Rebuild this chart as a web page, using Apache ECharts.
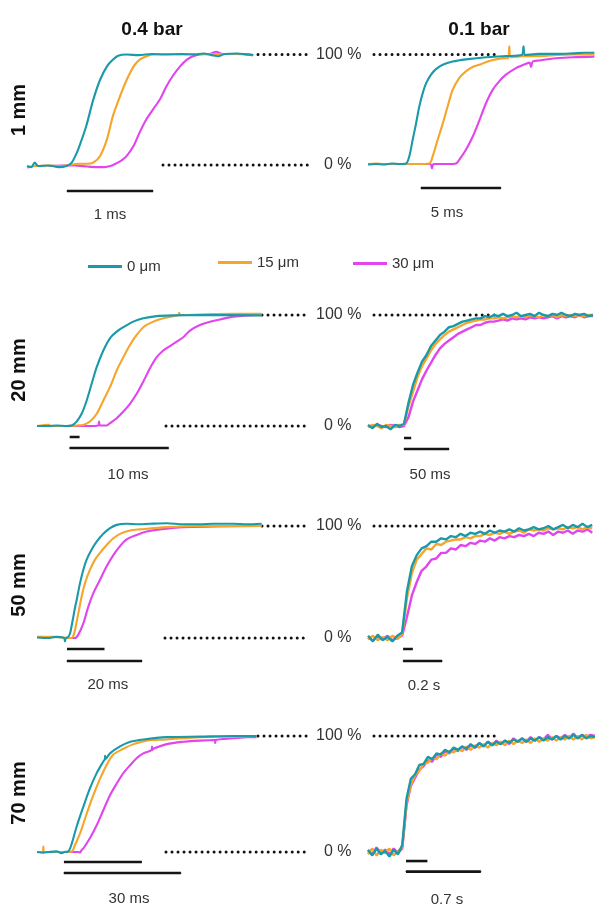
<!DOCTYPE html>
<html>
<head>
<meta charset="utf-8">
<script src="https://cdn.jsdelivr.net/npm/echarts@6/dist/echarts.min.js"></script>
<style>
  html, body { margin: 0; background: #fff; }
  #main { width: 612px; height: 915px; }
</style>
</head>
<body>
<div id="main"></div>
<script>
// legend names / colours
const names = ['0 μm', '15 μm', '30 μm']
const colors = ['#1a9aa9', '#f5a52a', '#e045ee']
const FONT = '"Liberation Sans", Arial, sans-serif'

// ---- row 1 (1 mm), 0.4 bar, time in ms
const p1_0 = [[0,0],[0.05,-1],[0.09,3],[0.13,0],[0.25,0.5],[0.37,-1],[0.46,0],[0.52,3],[0.58,12],[0.62,20],[0.69,36],[0.77,59],[0.85,77],[0.93,89],[1.0,95],[1.06,98.5],[1.16,99.5],[1.3,99],[1.45,100],[1.6,99.5],[1.8,100],[1.95,99.5],[2.05,100.5],[2.15,99],[2.22,98],[2.3,100],[2.45,100.5],[2.55,99.5],[2.63,99]]
const p1_15 = [[0,-1.5],[0.1,0],[0.25,0.5],[0.4,0],[0.5,1],[0.6,2],[0.7,2],[0.77,3],[0.85,9],[0.93,24],[1.0,45],[1.08,62],[1.16,77],[1.24,89],[1.31,95],[1.39,98],[1.47,99.5],[1.62,100],[1.8,99.5],[2.0,100],[2.2,100],[2.4,100],[2.63,99]]
const p1_30 = [[0.25,0],[0.4,0.5],[0.55,0.5],[0.7,-0.5],[0.82,-1],[0.9,-1],[0.97,0],[1.03,2],[1.1,5],[1.16,9],[1.24,18],[1.31,30],[1.39,42],[1.47,51],[1.55,60],[1.62,71],[1.70,81],[1.78,89],[1.86,95],[1.93,98],[2.01,99.5],[2.12,100],[2.2,102],[2.28,100],[2.4,100],[2.55,100],[2.63,99]]

// ---- row 1 (1 mm), 0.1 bar, time in ms
const p2_0 = [[0,-0.5],[0.5,0],[1,-0.5],[1.5,0.5],[2,0],[2.38,0.5],[2.58,7],[2.79,22],[3.0,37],[3.21,53],[3.42,65],[3.63,74],[3.94,82],[4.25,87],[4.67,91],[5.29,94],[6.12,96],[7.38,98],[8.6,99],[9.6,100],[9.72,108],[9.8,100],[10.7,101],[11.8,101],[12.8,101.5],[13.5,102],[14.15,102]]
const p2_15 = [[0,0],[0.5,0.5],[1,0],[2,0],[3,0],[3.83,0.5],[4.04,7],[4.35,22],[4.67,37],[4.98,53],[5.29,68],[5.71,79],[6.12,85],[6.54,89],[6.96,91],[7.48,94],[8.0,96],[8.6,97],[8.76,97],[8.83,108],[8.9,98],[9.67,99],[10.7,99],[11.8,100],[12.8,100.5],[14.15,100.5]]
const p2_30 = [[0,0],[3.0,0],[3.9,0],[4.0,-4],[4.1,0],[5.0,0],[5.5,0.5],[5.71,4],[6.12,13],[6.54,25],[6.96,40],[7.38,56],[7.79,68],[8.21,76],[8.62,82],[9.25,88],[9.88,92],[10.1,93],[10.19,89],[10.3,94],[10.7,95],[11.75,97],[12.8,98],[14.15,98.5]]

// ---- row 2 (20 mm), 0.4 bar, ms
const p3_0 = [[0,0],[1,0],[2,0.5],[3,0],[3.5,0.5],[4.0,4],[4.51,11],[5.02,23],[5.52,38],[6.03,53],[6.7,68],[7.37,79],[8.05,85],[8.72,89],[9.73,94],[10.74,97],[12.09,99],[13.77,99.7],[16.46,100],[22.7,99.7]]
const p3_15 = [[0,0],[1.2,1],[1.3,0],[3,0],[4.0,0.5],[4.68,1],[5.35,4],[6.03,11],[6.7,23],[7.37,35],[8.05,50],[8.72,62],[9.39,73],[10.07,82],[10.74,89],[11.75,94],[12.76,97],[13.77,99],[14.3,100],[14.35,102],[14.5,100],[16.46,100.5],[19.83,101],[22.7,101]]
const p3_30 = [[0,0],[3,0],[5,0],[6.2,0.5],[6.27,4],[6.35,0.5],[7.04,0.5],[7.37,2.5],[8.05,7],[8.72,13],[9.39,20],[10.07,29],[10.74,40],[11.41,52],[12.09,62],[12.76,68],[13.43,72],[14.11,76],[14.78,80],[15.45,86],[16.46,91],[17.47,94],[18.48,96],[19.83,98.5],[21.5,99.7],[22.7,100]]

// ---- row 2 (20 mm), 0.1 bar, ms
const t4 = [0,5,10,15,20,25,30,35,40,45,50,55,60,65,70,75,80,85,90,95,100,105,110,115,120,125,130,135,140,145,150,155,160,165,170,175,180,185,190,195,200,205,210,215,220,225,230,235,240,245,250]
const p4_0 = [1,-2,2,-1,0,-3,1,0,2,21,37,48,58,64,72,77,82,85,89,90,92,94,95,96,97,97,99,98,100,99,101,99,100,102,99,100,101,99,102,100,99,101,100,102,100,99,101,100,101,99,100]
const p4_15 = [-1,1,0,-2,1,0,-1,1,1,18,31,44,54,61,68,74,78,82,85,87,89,91,93,94,95,96,96,97,97,98,97,98,99,98,99,98,100,99,98,100,99,100,98,100,99,100,99,100,99,100,100]
const p4_30 = [0,-1,1,0,-1,1,0,-1,0,8,22,32,42,50,57,64,70,74,77,80,83,85,87,89,91,91,93,94,94,95,96,95,97,96,97,96,98,97,98,97,98,99,97,99,98,99,98,100,98,99,99]

// ---- row 3 (50 mm), 0.4 bar, ms
const p5_0 = [[0,0.5],[3,0],[5,1],[7.2,0],[7.47,-3],[7.7,0],[8.3,1],[8.8,4],[9.24,11],[9.69,19],[10.13,27],[10.58,34],[11.47,49],[12.36,61],[13.24,70],[14.58,79],[15.91,86],[17.69,93],[19.47,98],[21.24,101],[23.91,102],[27,101.5],[30.13,102],[34.58,102.5],[39,101.5],[43.47,101.5],[47,102],[52.36,102],[56,101.5],[59.9,102]]
const p5_15 = [[0,1],[4,1],[7,0.5],[8.5,0],[9.24,0],[9.69,2],[10.13,7],[11.02,22],[11.91,37],[12.8,49],[14.13,61],[15.47,70],[16.8,76],[18.58,83],[20.36,89],[22.13,93],[24.8,96],[27.47,97],[34.58,99],[43.47,100],[59.9,100]]
const p5_30 = [[7,0],[9,0],[10.13,0],[11.02,3],[12.36,13],[13.69,28],[15.02,40],[16.8,52],[18.58,64],[20.36,74],[22.13,82],[23.91,88],[26.58,92],[29.24,95],[32.8,97],[39,99],[47.9,99.5],[59.9,100]]

// ---- row 3 (50 mm), 0.1 bar, s
const t6 = [0,0.025,0.05,0.075,0.1,0.125,0.15,0.175,0.2,0.225,0.25,0.275,0.3,0.325,0.35,0.375,0.4,0.425,0.45,0.475,0.5,0.525,0.55,0.575,0.6,0.625,0.65,0.675,0.7,0.725,0.75,0.775,0.8,0.825,0.85,0.875,0.9,0.925,0.95,0.975,1,1.025,1.05,1.075,1.1,1.125,1.15]
const p6_0 = [2,-3,3,-2,1,-3,2,5,42,64,74,80,82,86,86,89,88,91,90,93,91,94,93,95,93,96,94,96,95,97,95,98,96,97,99,97,98,100,97,99,101,98,101,99,102,99,101]
const p6_15 = [-1,2,-2,1,-2,2,-1,3,36,58,70,75,80,79,84,83,86,87,88,88,90,89,91,91,93,92,94,93,95,93,95,96,94,97,96,97,96,98,97,98,97,99,98,99,97,99,98]
const p6_30 = [0,-2,1,-1,2,-2,0,2,19,38,50,60,64,70,71,76,76,80,79,83,82,85,84,87,86,89,87,90,89,91,90,92,91,93,91,94,93,95,92,95,94,96,93,96,95,97,94]

// ---- row 4 (70 mm), 0.4 bar, ms
const p7_0 = [[0,0],[1.62,-0.5],[3,0],[5,0.5],[6.3,-1],[7,0],[8.03,0.5],[8.89,7],[10.17,22],[11.88,39],[13.59,55],[15.3,68],[17.0,78],[17.4,80],[17.45,83],[17.55,80],[18.72,85],[21.28,91],[23.93,95],[27.3,97],[33.25,99],[41.8,99.5],[50.34,100],[56.3,100]]
const p7_15 = [[0,0],[1.5,0],[1.62,5],[1.75,0],[5,0],[8,0],[9.0,0.5],[9.74,6],[11.03,16],[12.74,33],[14.44,49],[16.15,63],[17.86,75],[19.57,84],[22.14,89],[24.79,93],[28.1,96],[33.25,97],[41.8,99],[50.34,99.5],[56.3,100]]
const p7_30 = [[8,0],[10.6,0],[11.0,-0.5],[11.5,2],[11.88,3],[13.59,12],[15.3,23],[17.0,36],[18.72,49],[20.43,59],[22.14,68],[23.93,75],[25.6,81],[27.26,85],[29.4,88],[29.5,91],[29.6,88],[29.83,89],[33.25,93],[37.52,95],[41.8,96],[45.6,96.5],[45.7,94],[45.8,96.5],[50.34,98],[54,99],[56.3,99]]

// ---- row 4 (70 mm), 0.1 bar, s
const t8 = [0,0.04,0.08,0.12,0.16,0.2,0.24,0.28,0.32,0.36,0.4,0.44,0.48,0.52,0.56,0.6,0.64,0.68,0.72,0.76,0.8,0.84,0.88,0.92,0.96,1,1.04,1.08,1.12,1.16,1.2,1.24,1.28,1.32,1.36,1.4,1.44,1.48,1.52,1.56,1.6,1.64,1.68,1.72,1.76,1.8,1.84,1.88,1.92,1.96,2,2.04,2.08,2.12]
const p8_0 = [2,-3,3,-2,1,-4,2,-2,6,46,63,67,75,76,82,80,85,84,88,86,90,88,91,89,93,90,94,91,95,92,95,93,96,94,97,95,98,95,98,96,99,96,99,97,100,97,100,98,101,98,101,98,100,99]
const p8_15 = [-2,3,-3,2,-1,3,-3,1,4,42,58,66,70,76,77,81,80,85,83,87,86,89,87,91,88,92,90,93,90,94,92,95,92,96,93,96,94,97,94,98,95,98,96,99,96,99,97,100,97,100,97,101,98,99]
const p8_30 = [1,-2,4,-1,2,-2,3,-1,3,40,57,64,71,74,79,78,84,82,87,85,89,87,91,88,92,90,94,91,95,92,96,93,96,93,98,95,98,95,99,96,99,97,101,97,100,98,101,98,102,98,101,99,101,100]

// scale bars (same units as the panel's x axis)
const scaleLong = [1, 5, 10, 50, 20, 0.2, 30, 0.7]
const scaleShort = [null, null, 1, 8, 10, 0.05, 20, 0.2]
const scaleText = ['1 ms', '5 ms', '10 ms', '50 ms', '20 ms', '0.2 s', '30 ms', '0.7 s']

const rowLabels = ['1 mm', '20 mm', '50 mm', '70 mm']
const colLabels = ['0.4 bar', '0.1 bar']

const zip = (t, v) => t.map((x, i) => [x, v[i]])

const panelData = [
  [p1_0, p1_15, p1_30],
  [p2_0, p2_15, p2_30],
  [p3_0, p3_15, p3_30],
  [zip(t4, p4_0), zip(t4, p4_15), zip(t4, p4_30)],
  [p5_0, p5_15, p5_30],
  [zip(t6, p6_0), zip(t6, p6_15), zip(t6, p6_30)],
  [p7_0, p7_15, p7_30],
  [zip(t8, p8_0), zip(t8, p8_15), zip(t8, p8_30)]
]

// layout: pixel placement of every panel
const layout = [
  { left: 27,  ppu: 86,   xmax: 2.63,  y100: 54,  y0: 166, barX: 0.465, barY: -22.3, shortY: null, labX: 0.965, labD: 16 },
  { left: 368, ppu: 16,   xmax: 14.15, y100: 55,  y0: 164, barX: 3.31,  barY: -22,   shortY: null, labX: 4.94,  labD: 17 },
  { left: 37,  ppu: 9.9,  xmax: 22.7,  y100: 315, y0: 426, barX: 3.3,   barY: -19.8, shortY: -9.9, labX: 9.19,  labD: 19 },
  { left: 368, ppu: 0.9,  xmax: 250,   y100: 315, y0: 426, barX: 40,    barY: -20.7, shortY: -10.8, labX: 68.9, labD: 18 },
  { left: 37,  ppu: 3.75, xmax: 60,    y100: 526, y0: 638, barX: 8,     barY: -20.5, shortY: -9.8, labX: 18.9,  labD: 16 },
  { left: 368, ppu: 195,  xmax: 1.16,  y100: 526, y0: 638, barX: 0.18,  barY: -20.5, shortY: -9.8, labX: 0.287, labD: 17 },
  { left: 37,  ppu: 3.9,  xmax: 56.5,  y100: 736, y0: 852, barX: 6.9,   barY: -18.1, shortY: -8.6, labX: 23.6,  labD: 18 },
  { left: 368, ppu: 107,  xmax: 2.12,  y100: 736, y0: 852, barX: 0.355, barY: -16.9, shortY: -7.8, labX: 0.738, labD: 20 }
]
const YMIN = -30, YMAX = 110

const grid = [], xAxis = [], yAxis = [], series = []
layout.forEach((p, i) => {
  const k = (p.y0 - p.y100) / 100
  grid.push({ left: p.left, top: p.y100 - (YMAX - 100) * k, width: p.xmax * p.ppu, height: (YMAX - YMIN) * k })
  xAxis.push({ gridIndex: i, type: 'value', min: 0, max: p.xmax, show: false })
  yAxis.push({ gridIndex: i, type: 'value', min: YMIN, max: YMAX, show: false })
  const noisy = i % 2 === 1 && i > 1
  // draw 30 µm first, 0 µm last (on top)
  ;[2, 1, 0].forEach(c => {
    series.push({
      name: names[c], type: 'line', xAxisIndex: i, yAxisIndex: i,
      data: panelData[i][c], symbol: 'none', smooth: noisy ? false : 0.3,
      itemStyle: { color: colors[c] },
      lineStyle: { color: colors[c], width: noisy ? 2.4 : 2.1 },
      silent: true
    })
  })
  // scale bars
  const barStyle = { color: '#151515', width: 2.6 }
  series.push({
    type: 'line', xAxisIndex: i, yAxisIndex: i, silent: true,
    symbol: 'circle', symbolSize: 1, showSymbol: true,
    itemStyle: { color: '#151515' }, lineStyle: barStyle,
    data: [
      [p.barX, p.barY],
      { value: [p.labX, p.barY], label: { show: true, position: 'bottom', distance: p.labD, formatter: scaleText[i], fontFamily: FONT, fontSize: 15, color: '#333' } },
      [p.barX + scaleLong[i], p.barY]
    ]
  })
  if (scaleShort[i] != null) {
    series.push({
      type: 'line', xAxisIndex: i, yAxisIndex: i, silent: true, symbol: 'none',
      lineStyle: barStyle,
      data: [[p.barX, p.shortY], [p.barX + scaleShort[i], p.shortY]]
    })
  }
})

// dotted reference lines and labels
const rows = [
  { y100: 54.5, y0: 165, l100: 258, l0: 163 },
  { y100: 315,  y0: 426, l100: 262, l0: 166 },
  { y100: 526,  y0: 638, l100: 262, l0: 165 },
  { y100: 736,  y0: 852, l100: 258, l0: 166 }
]
const dots = { stroke: '#111', lineWidth: 3, lineDash: [0.01, 6], lineCap: 'round' }
const graphic = []
rows.forEach((r, i) => {
  graphic.push({ type: 'line', shape: { x1: r.l100, y1: r.y100, x2: 310, y2: r.y100 }, style: dots, silent: true })
  graphic.push({ type: 'line', shape: { x1: 374, y1: r.y100, x2: 497, y2: r.y100 }, style: dots, silent: true })
  graphic.push({ type: 'line', shape: { x1: r.l0, y1: r.y0, x2: 309, y2: r.y0 }, style: dots, silent: true })
  graphic.push({ type: 'text', x: 316, y: r.y100, style: { text: '100 %', font: '16px ' + FONT, fill: '#333', verticalAlign: 'middle' } })
  graphic.push({ type: 'text', x: 324, y: r.y0, style: { text: '0 %', font: '16px ' + FONT, fill: '#333', verticalAlign: 'middle' } })
})
const rowY = [110, 370, 585, 793]
rowLabels.forEach((t, i) => {
  graphic.push({ type: 'text', x: 19, y: rowY[i], rotation: Math.PI / 2,
    style: { text: t, font: 'bold 20px ' + FONT, fill: '#111', align: 'center', verticalAlign: 'middle' } })
})
const colX = [152, 479]
colLabels.forEach((t, i) => {
  graphic.push({ type: 'text', x: colX[i], y: 30,
    style: { text: t, font: 'bold 19px ' + FONT, fill: '#111', align: 'center', verticalAlign: 'middle' } })
})

// three separate legends, placed like the figure
const legLeft = [83, 213, 348]
const legTop = [254, 250, 251]
const legend = names.map((n, i) => ({
  data: [n], left: legLeft[i], top: legTop[i], icon: 'rect',
  itemWidth: 34, itemHeight: 3, selectedMode: false,
  textStyle: { fontFamily: FONT, fontSize: 15, color: '#333' }
}))

const chart = echarts.init(document.getElementById('main'))
chart.setOption({
  animation: false,
  backgroundColor: '#fff',
  legend, grid, xAxis, yAxis, series, graphic
})
</script>
</body>
</html>
